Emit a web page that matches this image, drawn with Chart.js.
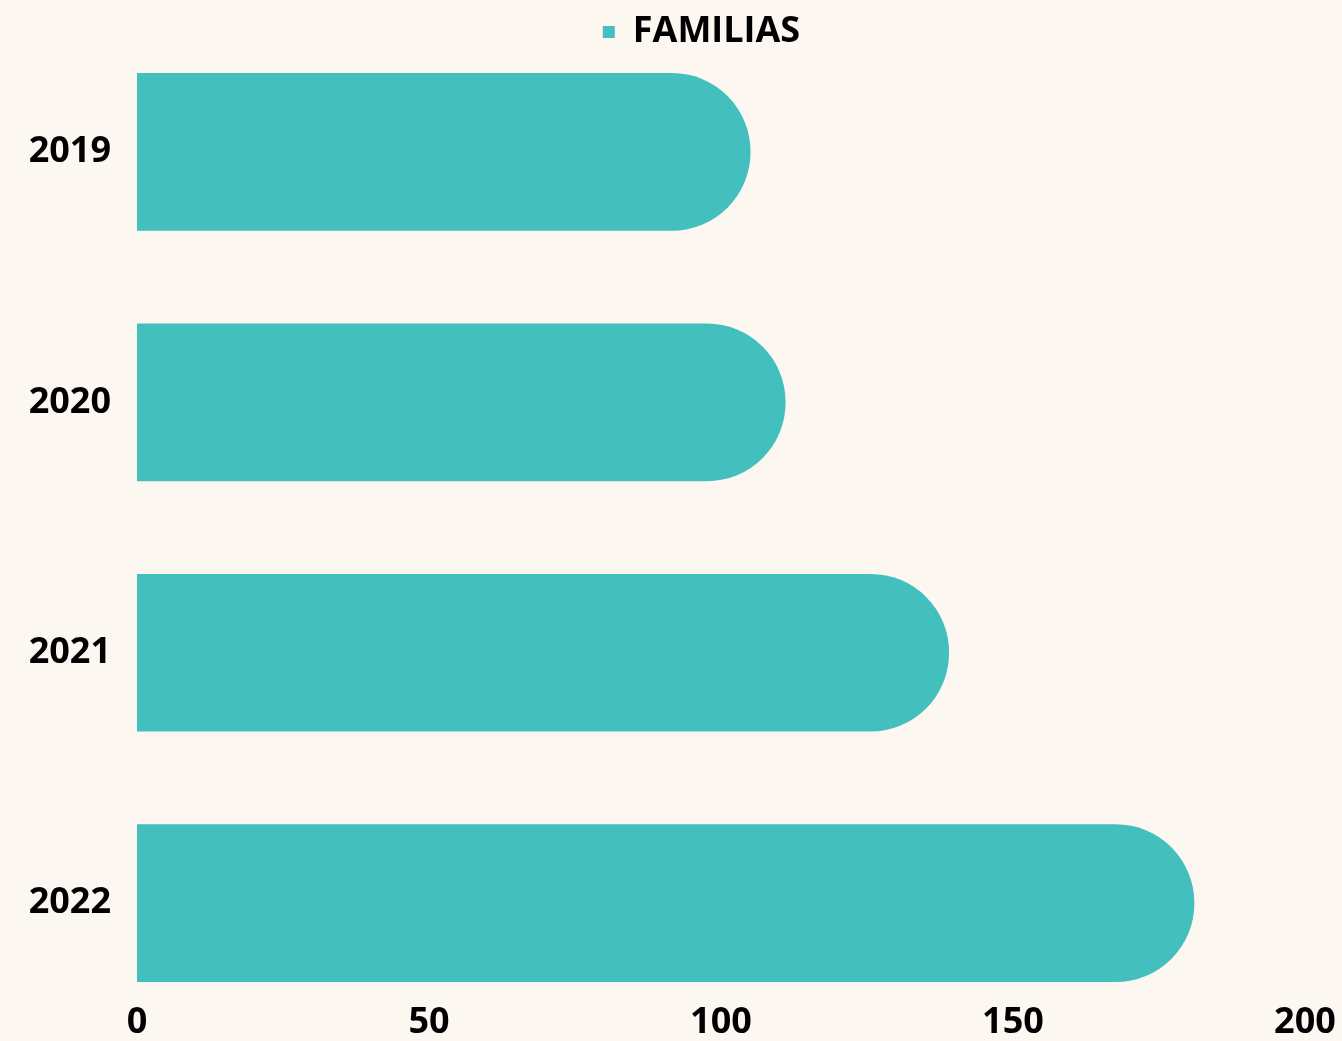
<!DOCTYPE html>
<html>
<head>
<meta charset="utf-8">
<script src="https://cdn.jsdelivr.net/npm/chart.js@4/dist/chart.umd.min.js"></script>
<style>
  html, body { margin: 0; padding: 0; background: #FCF7F1; }
  #wrap { width: 1342px; height: 1041px; }
</style>
</head>
<body>
<div id="wrap"><canvas id="c" width="1342" height="1041"></canvas></div>
<script>
const categories = ['2019', '2020', '2021', '2022'];
const seriesName = 'FAMILIAS';
const familias = [105, 111, 139, 181];
const xTicks = [0, 50, 100, 150, 200];

const barColor = '#43C0BD';
const fontFamily = "'Open Sans', 'Noto Sans', sans-serif";

const points = familias.map((v, i) => ({ x: v, y: i }));

new Chart(document.getElementById('c'), {
  type: 'bar',
  data: {
    datasets: [{
      label: seriesName,
      data: points,
      backgroundColor: barColor,
      borderWidth: 0,
      borderRadius: 200,
      borderSkipped: 'start',
      barThickness: 157
    }]
  },
  options: {
    indexAxis: 'y',
    responsive: false,
    animation: false,
    layout: { padding: { left: 0, right: 37, top: 0, bottom: 0 } },
    plugins: {
      tooltip: { enabled: false },
      legend: {
        position: 'top',
        labels: {
          color: '#000',
          font: { family: fontFamily, size: 36, weight: 'bold' },
          boxWidth: 12,
          boxHeight: 12,
          padding: 14
        }
      }
    },
    scales: {
      x: {
        type: 'linear',
        min: xTicks[0],
        max: xTicks[xTicks.length - 1],
        bounds: 'data',
        grid: { display: false, drawTicks: false },
        border: { display: false },
        afterBuildTicks: (s) => { s.ticks = xTicks.map(v => ({ value: v })); },
        afterFit: (s) => { s.height = 41; s.paddingRight = 0; },
        ticks: {
          color: '#000',
          padding: 8,
          font: { family: fontFamily, size: 36, weight: 'bold' }
        }
      },
      y: {
        type: 'linear',
        reverse: true,
        offset: false,
        bounds: 'data',
        min: -0.36687,
        max: 3.36043,
        grid: { display: false, drawTicks: false },
        border: { display: false },
        afterBuildTicks: (s) => { s.ticks = categories.map((c, i) => ({ value: i })); },
        afterFit: (s) => { s.width = 137; },
        ticks: {
          color: '#000',
          padding: 26,
          font: { family: fontFamily, size: 36, weight: 'bold' },
          callback: (v) => categories[v] !== undefined ? categories[v] : ''
        }
      }
    }
  },
  plugins: [{
    id: 'bg',
    beforeDraw: (chart) => {
      const ctx = chart.ctx;
      ctx.save();
      ctx.fillStyle = '#FCF7F1';
      ctx.fillRect(0, 0, chart.width, chart.height);
      ctx.restore();
    }
  }, {
    id: 'legendShift',
    afterLayout: (chart) => {
      if (chart.legend) { chart.legend.left = 98; }
    }
  }]
});
</script>
</body>
</html>
